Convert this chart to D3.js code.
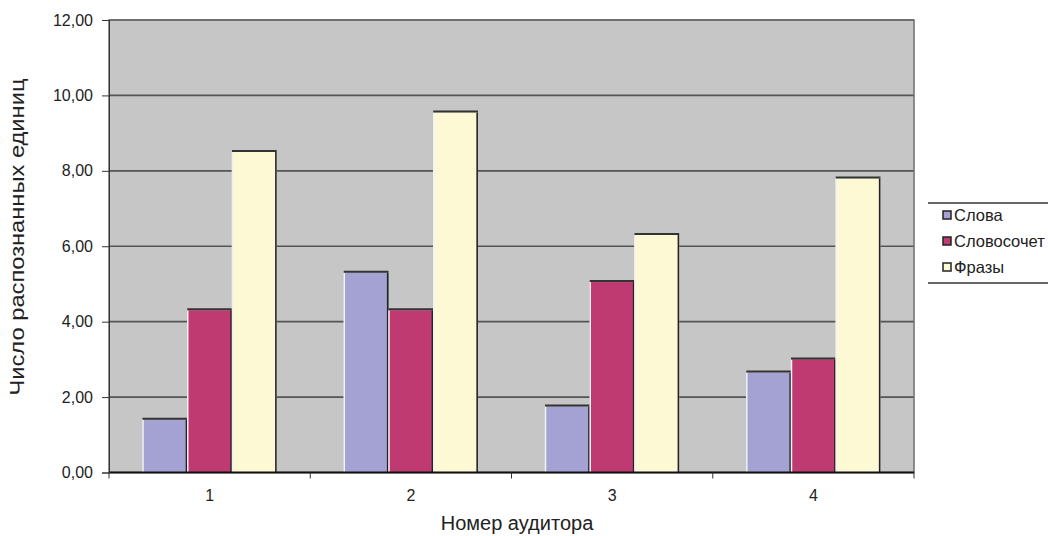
<!DOCTYPE html>
<html>
<head>
<meta charset="utf-8">
<script src="https://cdn.jsdelivr.net/npm/d3@7"></script>
<style>
  html, body { margin: 0; padding: 0; background: #fff; }
  svg { display: block; font-family: "Liberation Sans", Arial, sans-serif; }
</style>
</head>
<body>
<svg id="chart" width="1048" height="536"></svg>
<script>
// Auditor numbers (categories)
const categories = ["1", "2", "3", "4"];
// Recognised units per auditor, by type
const seriesNames = ["Слова", "Словосочет", "Фразы"];
const slova = [1.40, 5.30, 1.75, 2.65];
const slovosochet = [4.30, 4.30, 5.05, 3.00];
const frazy = [8.50, 9.55, 6.30, 7.80];
const yTicks = [0, 2, 4, 6, 8, 10, 12];
const seriesColors = ["#a3a2d2", "#be3a70", "#fcf9d4"];

const series = [slova, slovosochet, frazy];

const svg = d3.select("#chart");
const plot = { left: 109, right: 914, top: 20, bottom: 472.5 };

const x = d3.scaleBand().domain(categories).range([plot.left, plot.right]).paddingInner(0).paddingOuter(0);
const y = d3.scaleLinear().domain([0, 12]).range([plot.bottom, plot.top]);

// bars take 3 of 4.5 units of each category (gap width 150%)
const barW = x.bandwidth() / 4.5;
const groupOffset = (x.bandwidth() - 3 * barW) / 2;

// plot background
svg.append("rect")
  .attr("x", plot.left).attr("y", plot.top)
  .attr("width", plot.right - plot.left).attr("height", plot.bottom - plot.top)
  .attr("fill", "#c6c6c6");

// gridlines
svg.append("g").selectAll("line").data(yTicks.filter(d => d > 0)).join("line")
  .attr("x1", plot.left).attr("x2", plot.right)
  .attr("y1", d => y(d)).attr("y2", d => y(d))
  .attr("stroke", "#555").attr("stroke-width", 1.6);

// plot frame
svg.append("rect")
  .attr("x", plot.left).attr("y", plot.top)
  .attr("width", plot.right - plot.left).attr("height", plot.bottom - plot.top)
  .attr("fill", "none").attr("stroke", "#6e6e6e").attr("stroke-width", 1.5);

// bars with bevelled edges
const bars = svg.append("g");
categories.forEach((c, i) => {
  series.forEach((vals, s) => {
    const bx = x(c) + groupOffset + s * barW;
    const top = y(vals[i]);
    const g = bars.append("g");
    g.append("rect")
      .attr("x", bx).attr("y", top)
      .attr("width", barW).attr("height", plot.bottom - top)
      .attr("fill", seriesColors[s]);
    // light left edge
    g.append("line").attr("x1", bx + 0.5).attr("x2", bx + 0.5)
      .attr("y1", top).attr("y2", plot.bottom)
      .attr("stroke", "#f2f2f2").attr("stroke-width", 1.5);
    // dark right edge
    g.append("line").attr("x1", bx + barW - 0.8).attr("x2", bx + barW - 0.8)
      .attr("y1", top).attr("y2", plot.bottom)
      .attr("stroke", "#222").attr("stroke-width", 1.6);
    // top shadow
    g.append("line").attr("x1", bx).attr("x2", bx + barW)
      .attr("y1", top - 1).attr("y2", top - 1)
      .attr("stroke", "#333").attr("stroke-width", 2);
  });
});

// category axis line
svg.append("line")
  .attr("x1", plot.left).attr("x2", plot.right)
  .attr("y1", plot.bottom).attr("y2", plot.bottom)
  .attr("stroke", "#111").attr("stroke-width", 2);

// y axis
const yAxis = d3.axisLeft(y).tickValues(yTicks).tickSize(7).tickPadding(9)
  .tickFormat(d => d3.format(".2f")(d).replace(".", ","));
const gy = svg.append("g").attr("transform", `translate(${plot.left},0)`).call(yAxis);
gy.select(".domain").attr("stroke", "#333");
gy.selectAll(".tick line").attr("stroke", "#333");
gy.selectAll("text").attr("font-size", 16).attr("fill", "#222")
  .attr("font-family", "'Liberation Sans', Arial, sans-serif");

// x axis
const xAxis = d3.axisBottom(x).tickSize(0).tickPadding(17);
const gx = svg.append("g").attr("transform", `translate(0,${plot.bottom})`).call(xAxis);
gx.select(".domain").remove();
gx.selectAll("text").attr("font-size", 16).attr("fill", "#222")
  .attr("font-family", "'Liberation Sans', Arial, sans-serif");
// category boundary ticks
svg.append("g").selectAll("line")
  .data(categories.concat(["end"]))
  .join("line")
  .attr("x1", (d, i) => plot.left + i * x.bandwidth())
  .attr("x2", (d, i) => plot.left + i * x.bandwidth())
  .attr("y1", plot.bottom).attr("y2", plot.bottom + 6)
  .attr("stroke", "#333").attr("stroke-width", 1);

// axis titles
svg.append("text")
  .attr("x", 517).attr("y", 530)
  .attr("text-anchor", "middle").attr("font-size", 20).attr("fill", "#222")
  .text("Номер аудитора");
svg.append("text")
  .attr("transform", "translate(24,237) rotate(-90)")
  .attr("text-anchor", "middle").attr("font-size", 21).attr("fill", "#222")
  .attr("textLength", 317).attr("lengthAdjust", "spacingAndGlyphs")
  .text("Число распознанных единиц");

// legend
const lg = svg.append("g");
lg.append("line").attr("x1", 928).attr("x2", 1048).attr("y1", 203).attr("y2", 203)
  .attr("stroke", "#333").attr("stroke-width", 1.5);
lg.append("line").attr("x1", 928).attr("x2", 1048).attr("y1", 283).attr("y2", 283)
  .attr("stroke", "#333").attr("stroke-width", 1.5);
const legendY = [215, 241, 267];
seriesNames.forEach((name, i) => {
  lg.append("rect")
    .attr("x", 943).attr("y", legendY[i] - 4)
    .attr("width", 8).attr("height", 8)
    .attr("fill", seriesColors[i]).attr("stroke", "#222").attr("stroke-width", 1.5);
  lg.append("text")
    .attr("x", 954).attr("y", legendY[i] + 6)
    .attr("font-size", 16.5).attr("fill", "#222")
    .text(name);
});
</script>
</body>
</html>
